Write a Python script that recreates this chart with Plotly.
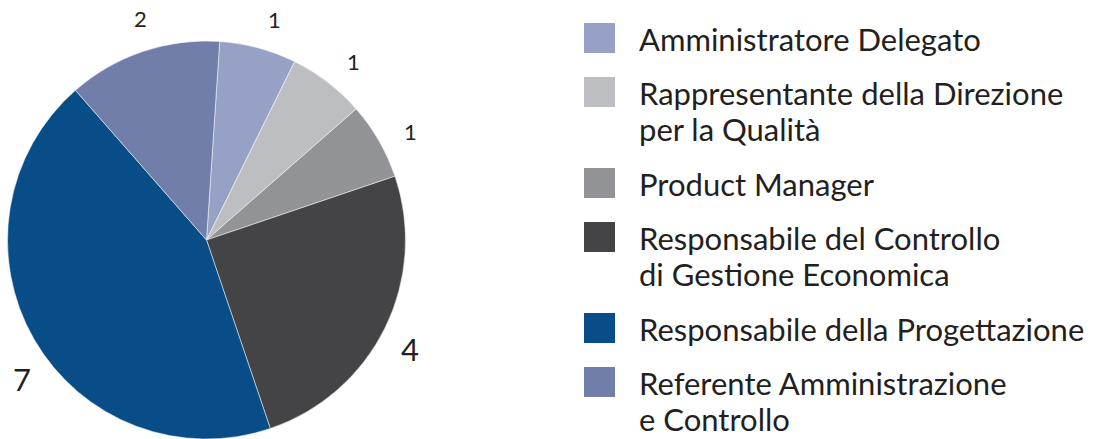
import math
import plotly.graph_objects as go

# ---- data ----
categories = [
    "Amministratore Delegato",
    "Rappresentante della Direzione<br>per la Qualità",
    "Product Manager",
    "Responsabile del Controllo<br>di Gestione Economica",
    "Responsabile della Progettazione",
    "Referente Amministrazione<br>e Controllo",
]
values = [1, 1, 1, 4, 7, 2]

# ---- style ----
colors = ["#97a1c6", "#bdbec2", "#929396", "#444446", "#084d88", "#707ea9"]
label_sizes = [22, 22, 22, 31, 31, 22]
W, H = 1093, 439
FONT = "Lato"
TXT = "#231f20"
ROT = 3.8               # degrees, clockwise from 12 o'clock
CX, CY, R = 206.5, 240.0, 199.0   # pie centre / radius in pixels (from top-left)
R_LAB = 231.0           # radius of value labels
LAB_SHIFT = 2.0         # small clockwise offset of labels
XMIN = 22.0             # keep labels inside the canvas

fig = go.Figure()
fig.add_trace(go.Pie(
    labels=categories,
    values=values,
    sort=False,
    direction="clockwise",
    rotation=ROT,
    marker=dict(colors=colors, line=dict(color="white", width=0.5)),
    textinfo="none",
    domain=dict(x=[(CX - R) / W, (CX + R) / W], y=[(H - CY - R) / H, min(1, (H - CY + R) / H)]),
    showlegend=False,
    hoverinfo="label+value",
))

annotations, shapes = [], []

# value labels placed radially outside each slice
total = sum(values)
cum = 0
for v, fs in zip(values, label_sizes):
    a0 = ROT + 360 * cum / total
    a1 = ROT + 360 * (cum + v) / total
    mid = (a0 + a1) / 2 + LAB_SHIFT
    cands = [a0 + (a1 - a0) * k / 200 for k in range(1, 200)]
    ok = [a for a in cands if CX + R_LAB * math.sin(math.radians(a)) >= XMIN]
    th = min(ok, key=lambda a: abs(a - mid)) if ok else mid
    px = CX + R_LAB * math.sin(math.radians(th))
    py = CY - R_LAB * math.cos(math.radians(th))
    annotations.append(dict(xref="paper", yref="paper", x=px / W, y=1 - py / H,
                            xanchor="center", yanchor="middle", text=str(v),
                            showarrow=False, font=dict(size=fs, color=TXT, family=FONT)))
    cum += v

# custom legend (large swatches), each text line placed separately
top = 23
LINE = 36
for cat, col in zip(categories, colors):
    parts = cat.split("<br>")
    shapes.append(dict(type="rect", xref="paper", yref="paper",
                       x0=584 / W, x1=615 / W,
                       y0=1 - (top + 30) / H, y1=1 - top / H,
                       fillcolor=col, line=dict(width=0)))
    for k, part in enumerate(parts):
        cy = top + 16 + k * LINE
        annotations.append(dict(xref="paper", yref="paper", x=637 / W, y=1 - cy / H,
                                xanchor="left", yanchor="middle", align="left",
                                text=part, showarrow=False,
                                font=dict(size=31, color=TXT, family=FONT)))
    top += 54 + 37 * (len(parts) - 1)

fig.update_layout(
    width=W, height=H,
    margin=dict(l=0, r=0, t=0, b=0),
    paper_bgcolor="white", plot_bgcolor="white",
    shapes=shapes, annotations=annotations,
    font=dict(family=FONT, color=TXT),
)
fig.write_html("out.html", config={"displayModeBar": False},
               post_script="document.body.style.margin='0';document.body.style.overflow='hidden';")
